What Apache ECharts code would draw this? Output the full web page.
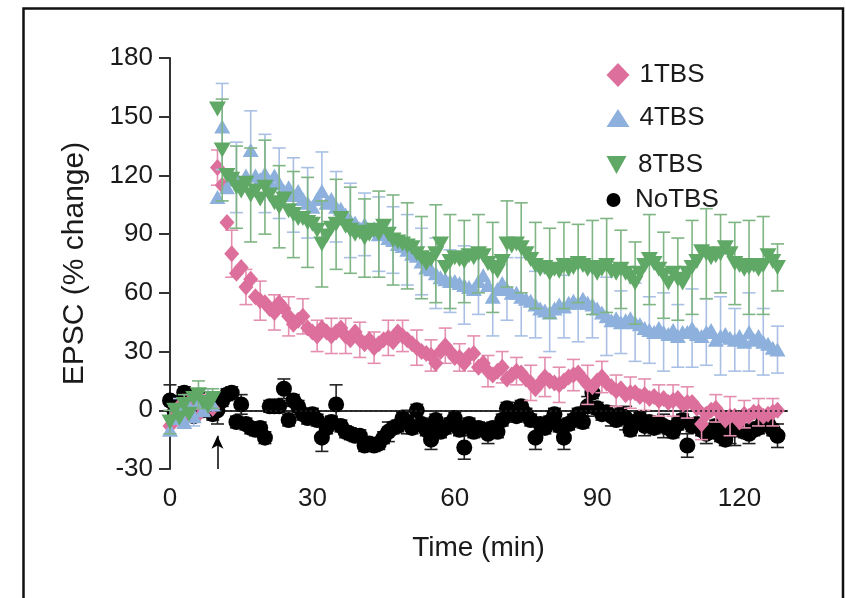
<!DOCTYPE html>
<html>
<head>
<meta charset="utf-8">
<script src="https://cdn.jsdelivr.net/npm/echarts@6/dist/echarts.min.js"></script>
<style>
  html, body { margin: 0; padding: 0; background: #fff; }
  #chart { width: 846px; height: 598px; }
</style>
</head>
<body>
<div id="chart"></div>
<script>
// sampling grid, one point per minute
const times = Array.from({ length: 129 }, (_, i) => i)

const xTicks = [0, 30, 60, 90, 120]
const names = ['1TBS', '4TBS', '8TBS', 'NoTBS']

const tbs1 = [
  -8, -3, 2, -4, 4, 0, -2, 3, 5, 1,
  124, 115, 96, 80, 70, 73, 63, 67, 58, 56,
  55, 52, 50, 55, 52, 48, 44, 46, 48, 42,
  40, 38, 42, 40, 38, 40, 42, 38, 36, 40,
  36, 34, 36, 32, 34, 36, 37, 35, 40, 38,
  36, 34, 32, 30, 29, 28, 24, 30, 33, 30,
  27, 27, 24, 28, 29, 22, 24, 20, 18, 20,
  22, 16, 18, 20, 19, 16, 14, 11, 14, 17,
  15, 14, 13, 15, 17, 18, 19, 16, 13, 12,
  15, 17, 14, 12, 10, 11, 8, 9, 9, 7,
  8, 6, 7, 5, 6, 4, 5, 6, 3, 4,
  4, 1, -7, -2, 0, 1, -2, -5, -3, -3,
  -6, -2, -3, -1, -1, -3, -2, -1, 0
]
// 0 = no visible bar
const tbs1Err = [
  0, 5, 0, 0, 4, 0, 0, 5, 0, 0,
  9, 0, 0, 12, 0, 0, 9, 0, 0, 10,
  0, 0, 9, 0, 0, 10, 0, 0, 9, 0,
  0, 8, 0, 0, 9, 0, 0, 9, 0, 0,
  9, 0, 0, 8, 0, 0, 9, 0, 0, 8,
  0, 0, 9, 0, 0, 8, 0, 0, 9, 0,
  0, 7, 0, 0, 9, 0, 0, 8, 0, 0,
  8, 0, 0, 7, 0, 0, 9, 0, 0, 10,
  0, 0, 9, 0, 0, 8, 0, 0, 10, 0,
  0, 8, 0, 0, 8, 0, 0, 8, 0, 0,
  8, 0, 0, 8, 0, 0, 8, 0, 0, 8,
  0, 0, 8, 0, 0, 7, 0, 0, 10, 0,
  0, 7, 0, 0, 7, 0, 0, 7, 0
]

const tbs4 = [
  -10, -4, 0, -6, 2, -3, 4, 0, 6, 3,
  109, 145, 114, 118, 119, 116, 120, 133, 120, 118,
  121, 117, 120, 116, 112, 114, 110, 112, 108, 106,
  104, 108, 112, 106, 108, 104, 103, 100, 97, 96,
  93, 95, 92, 93, 90, 91, 88, 87, 85, 84,
  82, 80, 79, 76, 73, 72, 70, 68, 67, 66,
  66, 65, 64, 63, 62, 66, 69, 64, 58, 62,
  65, 62, 60, 60, 58, 57, 56, 54, 52, 51,
  50, 52, 54, 53, 55, 56, 55, 57, 55, 54,
  52, 50, 48, 46, 47, 45, 46, 47, 45, 44,
  42, 41, 40, 42, 40, 39, 41, 38, 40, 40,
  42, 39, 38, 40, 41, 36, 38, 39, 37, 36,
  38, 35, 40, 36, 38, 35, 34, 32, 31
]
const tbs4Err = [
  0, 0, 6, 0, 0, 5, 0, 0, 5, 0,
  0, 22, 0, 0, 18, 0, 0, 20, 0, 0,
  20, 0, 0, 18, 0, 0, 19, 0, 0, 18,
  0, 0, 20, 0, 0, 18, 0, 0, 19, 0,
  0, 16, 0, 0, 19, 0, 0, 17, 0, 0,
  18, 0, 0, 17, 0, 0, 18, 0, 0, 16,
  0, 0, 20, 0, 0, 17, 0, 0, 20, 0,
  0, 16, 0, 0, 20, 0, 0, 17, 0, 0,
  20, 0, 0, 16, 0, 0, 20, 0, 0, 17,
  0, 0, 20, 0, 0, 16, 0, 0, 20, 0,
  0, 17, 0, 0, 20, 0, 0, 16, 0, 0,
  20, 0, 0, 17, 0, 0, 20, 0, 0, 16,
  0, 0, 20, 0, 0, 17, 0, 0, 12
]

const tbs8 = [
  -6, 0, -4, 3, -2, 6, 8, 4, 2, 6,
  154, 133, 120, 118, 114, 112, 116, 110, 112, 108,
  114, 110, 106, 104, 108, 102, 100, 98, 98, 96,
  95, 92, 85, 89, 93, 95, 98, 94, 92, 90,
  91, 88, 90, 92, 90, 94, 90, 87, 86, 85,
  84, 83, 80, 78, 75, 77, 80, 85, 73, 76,
  78, 77, 76, 79, 78, 80, 79, 75, 73, 71,
  76, 85, 84, 85, 83, 80, 77, 74, 72, 73,
  70, 72, 71, 74, 72, 73, 75, 74, 72, 73,
  70, 72, 74, 71, 70, 72, 70, 68, 65, 70,
  74, 77, 75, 72, 69, 65, 70, 67, 65, 70,
  73, 76, 81, 80, 78, 79, 80, 83, 80, 75,
  74, 72, 73, 74, 72, 74, 79, 76, 73
]
const tbs8Err = [
  6, 0, 0, 5, 0, 0, 7, 0, 0, 5,
  0, 26, 0, 0, 21, 0, 0, 24, 0, 0,
  24, 0, 0, 21, 0, 0, 22, 0, 0, 23,
  0, 0, 22, 0, 0, 23, 0, 0, 22, 0,
  0, 20, 0, 0, 22, 0, 0, 23, 0, 0,
  22, 0, 0, 21, 0, 0, 25, 0, 0, 24,
  0, 0, 21, 0, 0, 20, 0, 0, 23, 0,
  0, 22, 0, 0, 23, 0, 0, 22, 0, 0,
  23, 0, 0, 22, 0, 0, 20, 0, 0, 24,
  0, 0, 24, 0, 0, 20, 0, 0, 21, 0,
  0, 23, 0, 0, 22, 0, 0, 21, 0, 0,
  24, 0, 0, 23, 0, 0, 20, 0, 0, 21,
  0, 0, 24, 0, 0, 25, 0, 0, 12
]

const noTbs = [
  5, -1, 4, 9, 2, -3, 6, 0, 3, -2,
  0, 5, 8, 9, -6, 3, -7, -9, -10, -9,
  -14, 2, 2, 2, 11, -5, 5, 2, -2, -4,
  -2, -5, -14, -9, -6, 3, -8, -11, -12, -13,
  -13, -18, -17, -18, -17, -14, -11, -9, -8, -4,
  -6, -9, 0, -7, -10, -15, -5, -11, -9, -7,
  -4, -10, -19, -7, -11, -9, -10, -12, -9, -11,
  -5, 1, -1, -3, 2, -2, -5, -14, -7, -9,
  -6, -2, -8, -14, -7, -5, -2, -6, 2, 9,
  1, -2, -1, -3, -5, -2, -4, -10, -6, -4,
  -8, -6, -9, -7, -8, -9, -11, -7, -5, -18,
  -8, -7, -10, -12, -11, -8, -13, -15, -10, -10,
  -9, -11, -12, -10, -9, -6, -7, -10, -13
]
const noTbsErr = [
  8, 3, 3, 3, 5, 3, 3, 3, 3, 3,
  7, 3, 3, 3, 3, 5, 3, 3, 3, 3,
  3, 3, 3, 3, 5, 3, 3, 3, 3, 3,
  3, 3, 7, 3, 3, 10, 3, 3, 3, 3,
  3, 3, 3, 3, 3, 3, 5, 3, 3, 3,
  6, 3, 3, 3, 3, 5, 3, 3, 3, 3,
  3, 3, 6, 3, 3, 3, 3, 5, 3, 3,
  3, 3, 5, 3, 3, 3, 3, 6, 3, 3,
  3, 3, 3, 6, 3, 3, 3, 3, 5, 3,
  3, 3, 3, 5, 3, 3, 6, 3, 3, 3,
  5, 3, 3, 3, 6, 3, 3, 3, 3, 6,
  3, 3, 3, 5, 3, 3, 3, 3, 7, 8,
  3, 3, 5, 3, 3, 3, 3, 3, 6
]

const font = 'Liberation Sans'

function points (vals) {
  return times.map((t, i) => [t, vals[i]])
}

function errBars (name, vals, errs, color, z) {
  let rows = []
  times.forEach((t, i) => {
    if (errs[i] > 0) rows.push([t, vals[i] - errs[i], vals[i] + errs[i]])
  })
  return {
    name: name + ' err',
    type: 'custom',
    z: z,
    silent: true,
    data: rows,
    encode: { x: 0, y: [1, 2] },
    renderItem: function (params, api) {
      let lo = api.coord([api.value(0), api.value(1)])
      let hi = api.coord([api.value(0), api.value(2)])
      let w = 6.5
      let style = { stroke: color, lineWidth: 1.6, fill: null }
      return {
        type: 'group',
        children: [
          { type: 'line', shape: { x1: hi[0], y1: hi[1], x2: lo[0], y2: lo[1] }, style: style },
          { type: 'line', shape: { x1: hi[0] - w, y1: hi[1], x2: hi[0] + w, y2: hi[1] }, style: style },
          { type: 'line', shape: { x1: lo[0] - w, y1: lo[1], x2: lo[0] + w, y2: lo[1] }, style: style }
        ]
      }
    }
  }
}

const downTri = 'path://M0,0L10,0L5,9Z'
const legendCenters = [70, 113, 160, 195]
const legendIcons = [[23, 24], [23, 18], [23, 18], [23, 14]]

let option = {
  animation: false,
  backgroundColor: '#fff',
  graphic: [{
    type: 'rect',
    shape: { x: 23.5, y: 8.5, width: 819.5, height: 620 },
    style: { fill: null, stroke: '#111', lineWidth: 2.5 }
  }],
  legend: names.map((n, i) => ({
    data: [n],
    left: 601.5,
    top: legendCenters[i] - 14,
    orient: 'vertical',
    selectedMode: false,
    itemWidth: legendIcons[i][0],
    itemHeight: legendIcons[i][1],
    textStyle: { fontFamily: font, fontSize: 26, color: '#1a1a1a', lineHeight: 28, padding: [0, 0, 0, 5] }
  })),
  grid: { left: 170, right: 59, top: 58, bottom: 129 },
  xAxis: {
    type: 'value',
    min: 0,
    max: 130,
    name: 'Time (min)',
    nameLocation: 'middle',
    nameGap: 65,
    nameTextStyle: { fontFamily: font, fontSize: 28, color: '#1a1a1a' },
    axisLine: { lineStyle: { color: '#333', width: 2 } },
    axisTick: { length: 10, lineStyle: { color: '#333', width: 2 }, customValues: xTicks },
    axisLabel: { customValues: xTicks, margin: 17, fontFamily: font, fontSize: 26, color: '#1a1a1a' },
    splitLine: { show: false }
  },
  yAxis: {
    type: 'value',
    min: -30,
    max: 180,
    interval: 30,
    name: 'EPSC (% change)',
    nameLocation: 'middle',
    nameGap: 80,
    nameTextStyle: { fontFamily: font, fontSize: 30, color: '#1a1a1a' },
    axisLine: { show: true, lineStyle: { color: '#333', width: 2 } },
    axisTick: { show: true, length: 11, lineStyle: { color: '#333', width: 2 } },
    axisLabel: { margin: 17, fontFamily: font, fontSize: 26, color: '#1a1a1a' },
    splitLine: { show: false }
  },
  series: [
    errBars('NoTBS', noTbs, noTbsErr, '#222', 1),
    {
      name: 'NoTBS',
      type: 'scatter',
      z: 2,
      symbol: 'circle',
      symbolSize: 16,
      itemStyle: { color: '#000', opacity: 1 },
      data: points(noTbs),
      markLine: {
        silent: true,
        symbol: 'none',
        label: { show: false },
        lineStyle: { color: '#222', type: [2, 3], width: 1.5 },
        data: [{ yAxis: 0 }]
      }
    },
    errBars('1TBS', tbs1, tbs1Err, '#e48fb0', 3),
    {
      name: '1TBS',
      type: 'scatter',
      z: 4,
      symbol: 'diamond',
      symbolSize: [15, 17],
      itemStyle: { color: '#dc6f9c', opacity: 1 },
      data: points(tbs1)
    },
    errBars('4TBS', tbs4, tbs4Err, '#a9c0e4', 5),
    {
      name: '4TBS',
      type: 'scatter',
      z: 6,
      symbol: 'triangle',
      symbolSize: [16, 14],
      itemStyle: { color: '#8db0dd', opacity: 1 },
      data: points(tbs4)
    },
    errBars('8TBS', tbs8, tbs8Err, '#7fb583', 7),
    {
      name: '8TBS',
      type: 'scatter',
      z: 8,
      symbol: downTri,
      symbolSize: [17, 15],
      itemStyle: { color: '#5fa866', opacity: 1 },
      data: points(tbs8),
      markLine: {
        silent: true,
        label: { show: false },
        symbol: ['none', 'arrow'],
        symbolSize: [9, 13],
        lineStyle: { color: '#000', type: 'solid', width: 1.5 },
        data: [[{ coord: [10, -30] }, { coord: [10, -13] }]]
      }
    }
  ]
}

let chart = echarts.init(document.getElementById('chart'))
chart.setOption(option)
</script>
</body>
</html>
